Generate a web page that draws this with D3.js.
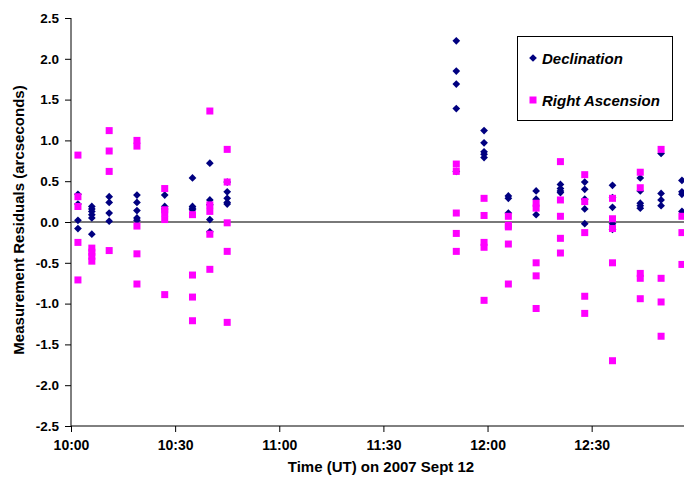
<!DOCTYPE html>
<html>
<head>
<meta charset="utf-8">
<script src="https://cdn.jsdelivr.net/npm/d3@7"></script>
<style>
  html, body { margin: 0; padding: 0; background: #fff; }
  svg { display: block; font-family: Arial, "Liberation Sans", sans-serif; }
</style>
</head>
<body>
<svg id="chart" width="684" height="481"></svg>
<script>
// Observation times (UT, 2007 Sept 12), one per group of residuals
const obsTimes = ["10:02", "10:06", "10:11", "10:19", "10:27", "10:35", "10:40", "10:45",
                  "11:51", "11:59", "12:06", "12:14", "12:21", "12:28", "12:36", "12:44", "12:50", "12:56"];

// Declination residuals (arcseconds) per observation time
const declination = [
  [0.34, 0.22, 0.02, -0.08],
  [0.19, 0.16, 0.13, 0.09, 0.05, -0.15],
  [0.31, 0.24, 0.11, 0.01],
  [0.33, 0.24, 0.14, 0.05, 0.02],
  [0.33, 0.19, 0.16],
  [0.54, 0.19, 0.17, 0.15],
  [0.72, 0.27, 0.21, 0.03, -0.12],
  [0.49, 0.37, 0.29, 0.24, 0.22],
  [2.22, 1.85, 1.69, 1.39, 0.62],
  [1.12, 0.97, 0.86, 0.83, 0.79],
  [0.32, 0.29, 0.11],
  [0.38, 0.28, 0.09],
  [0.46, 0.41, 0.38, 0.36],
  [0.49, 0.40, 0.28, 0.16, -0.02],
  [0.45, 0.30, 0.18, -0.02, -0.09],
  [0.54, 0.38, 0.23, 0.20, 0.17],
  [0.84, 0.35, 0.27, 0.20],
  [0.51, 0.37, 0.34, 0.13]
];

// Right ascension residuals (arcseconds) per observation time
const rightAscension = [
  [0.82, 0.31, 0.19, -0.25, -0.71],
  [-0.32, -0.37, -0.42, -0.48],
  [1.12, 0.87, 0.62, -0.35],
  [1.00, 0.93, -0.05, -0.39, -0.76],
  [0.41, 0.15, 0.11, 0.03, -0.89],
  [0.09, -0.65, -0.92, -1.21],
  [1.36, 0.21, 0.13, -0.15, -0.58],
  [0.89, 0.49, -0.01, -0.36, -1.23],
  [0.71, 0.62, 0.11, -0.14, -0.36],
  [0.29, 0.08, -0.25, -0.31, -0.96],
  [0.07, -0.04, -0.06, -0.27, -0.76],
  [0.23, 0.17, -0.50, -0.66, -1.06],
  [0.74, 0.27, 0.07, -0.20, -0.38],
  [0.58, 0.25, -0.13, -0.91, -1.12],
  [0.29, 0.04, -0.08, -0.50, -1.70],
  [0.61, 0.42, -0.63, -0.69, -0.94],
  [0.89, -0.69, -0.98, -1.40],
  [0.07, -0.13, -0.52]
];

const yTicks = [-2.5, -2.0, -1.5, -1.0, -0.5, 0.0, 0.5, 1.0, 1.5, 2.0, 2.5];
const xTickLabels = ["10:00", "10:30", "11:00", "11:30", "12:00", "12:30"];
const xStart = "10:00:00";
const xEnd = "12:56:36";

const parseTime = d3.timeParse("%H:%M:%S");
const parseHM = d3.timeParse("%H:%M");

const svg = d3.select("#chart");
const plotLeft = 71, plotRight = 684, plotTop = 18, plotBottom = 426;

const x = d3.scaleTime()
  .domain([parseTime(xStart), parseTime(xEnd)])
  .range([plotLeft, plotRight]);

const y = d3.scaleLinear()
  .domain([-2.5, 2.5])
  .range([plotBottom, plotTop]);

// Axes
const yAxis = d3.axisLeft(y)
  .tickValues(yTicks)
  .tickSize(6)
  .tickPadding(6)
  .tickFormat(d => d.toFixed(1));

const xAxis = d3.axisBottom(x)
  .tickValues(xTickLabels.map(parseHM))
  .tickSize(6)
  .tickPadding(8)
  .tickFormat(d3.timeFormat("%H:%M"));

const gy = svg.append("g")
  .attr("transform", `translate(${plotLeft},0)`)
  .call(yAxis);
gy.select(".domain").attr("d", `M0,${plotTop}V${plotBottom}`);

const gx = svg.append("g")
  .attr("transform", `translate(0,${plotBottom})`)
  .call(xAxis);
gx.select(".domain").attr("d", `M${plotLeft},0H${plotRight}`);

[gx, gy].forEach(g => {
  g.selectAll(".domain, .tick line").attr("stroke", "#000").attr("stroke-width", 1);
  g.selectAll(".tick text")
    .attr("fill", "#000")
    .attr("font-weight", "bold")
    .attr("font-family", "Arial, 'Liberation Sans', sans-serif");
});
gy.selectAll(".tick text").attr("font-size", 13.5);
gx.selectAll(".tick text").attr("font-size", 14);

// Zero reference line
svg.append("line")
  .attr("x1", plotLeft).attr("x2", plotRight)
  .attr("y1", y(0)).attr("y2", y(0))
  .attr("stroke", "#4d4d4d")
  .attr("stroke-width", 1.5);

// Flatten series into points
function flatten(series) {
  const pts = [];
  series.forEach((vals, i) => {
    const t = parseHM(obsTimes[i]);
    vals.forEach(v => pts.push({ t, v }));
  });
  return pts;
}

// Diamond marker: a square turned 45 degrees
const diamond = d3.symbol().type(d3.symbolSquare).size(30);

svg.append("g")
  .selectAll("path")
  .data(flatten(declination))
  .join("path")
  .attr("d", diamond)
  .attr("transform", d => `translate(${x(d.t)},${y(d.v)}) rotate(45)`)
  .attr("fill", "#000080");

const sq = 7;
svg.append("g")
  .selectAll("rect")
  .data(flatten(rightAscension))
  .join("rect")
  .attr("x", d => x(d.t) - sq / 2)
  .attr("y", d => y(d.v) - sq / 2)
  .attr("width", sq)
  .attr("height", sq)
  .attr("fill", "#FF00FF");

// Axis titles
svg.append("text")
  .attr("x", 381)
  .attr("y", 472)
  .attr("text-anchor", "middle")
  .attr("font-size", 15)
  .attr("font-weight", "bold")
  .text("Time (UT) on 2007 Sept 12");

svg.append("text")
  .attr("transform", `translate(24,${(plotTop + plotBottom) / 2 - 2}) rotate(-90)`)
  .attr("text-anchor", "middle")
  .attr("font-size", 15)
  .attr("font-weight", "bold")
  .text("Measurement Residuals (arcseconds)");

// Legend
const legend = svg.append("g");
legend.append("rect")
  .attr("x", 517.5).attr("y", 36.5)
  .attr("width", 155).attr("height", 84)
  .attr("fill", "#fff")
  .attr("stroke", "#000")
  .attr("stroke-width", 1);

legend.append("path")
  .attr("d", diamond)
  .attr("transform", "translate(533,58) rotate(45)")
  .attr("fill", "#000080");
legend.append("text")
  .attr("x", 542).attr("y", 63.5)
  .attr("font-size", 15)
  .attr("font-weight", "bold")
  .attr("font-style", "italic")
  .text("Declination");

legend.append("rect")
  .attr("x", 533 - sq / 2).attr("y", 100 - sq / 2)
  .attr("width", sq).attr("height", sq)
  .attr("fill", "#FF00FF");
legend.append("text")
  .attr("x", 542).attr("y", 106)
  .attr("font-size", 15)
  .attr("font-weight", "bold")
  .attr("font-style", "italic")
  .text("Right Ascension");
</script>
</body>
</html>
